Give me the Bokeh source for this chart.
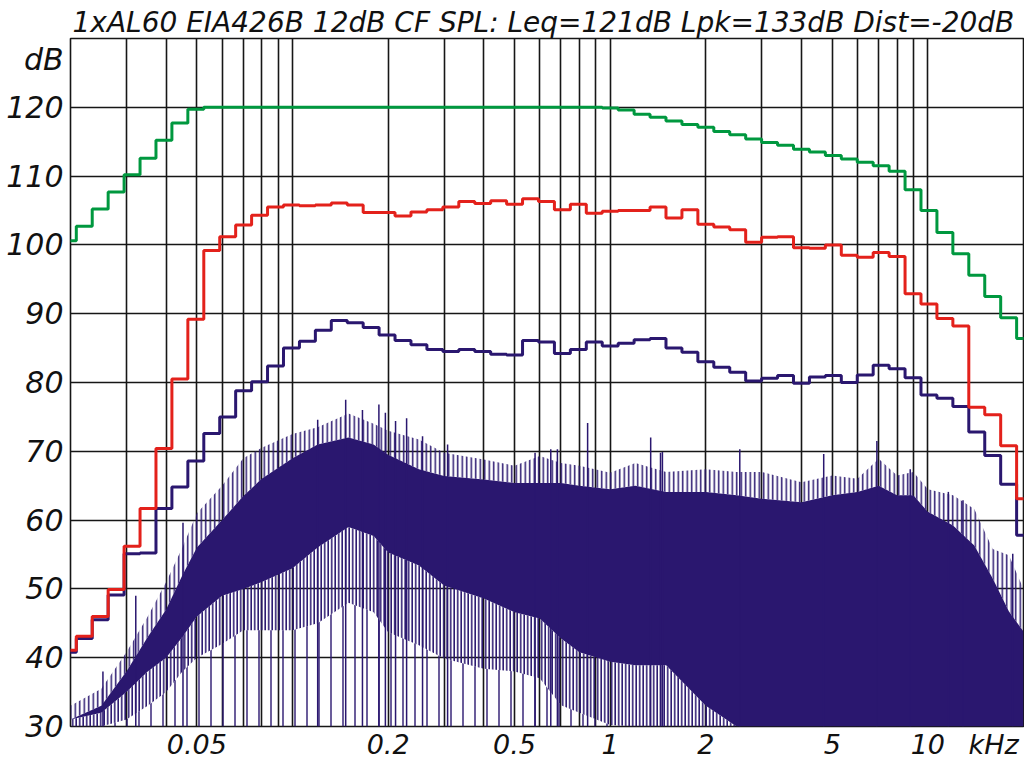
from bokeh.plotting import figure
from bokeh.models import Range1d, FixedTicker
from bokeh.embed import file_html
from bokeh.resources import INLINE

TITLE = "1xAL60 EIA426B 12dB CF SPL: Leq=121dB Lpk=133dB Dist=-20dB"

# 1/6-octave band centres (kHz)
band_khz = [0.01969, 0.02210, 0.02480, 0.02784, 0.03125, 0.03508, 0.03937, 0.04419,
            0.04961, 0.05568, 0.0625, 0.07015, 0.07875, 0.08839, 0.09921, 0.1114,
            0.125, 0.1403, 0.1575, 0.1768, 0.1984, 0.2227, 0.25, 0.2806, 0.3150,
            0.3536, 0.3969, 0.4454, 0.5, 0.5612, 0.63, 0.7071, 0.7937, 0.8909, 1.0,
            1.1225, 1.2599, 1.4142, 1.5874, 1.7818, 2.0, 2.2449, 2.5198, 2.8284,
            3.1748, 3.5636, 4.0, 4.4898, 5.0397, 5.6569, 6.3496, 7.1272, 8.0,
            8.9797, 10.079, 11.314, 12.699, 14.254, 16.0, 17.959, 20.159]

green_db = [100.6, 102.7, 105.2, 107.7, 110.2, 112.6, 115.2, 117.7, 119.7,
            120.0, 120.0, 120.0, 120.0, 120.0, 120.0, 120.0, 120.0, 120.0, 120.0,
            120.0, 120.0, 120.0, 120.0, 120.0, 120.0, 120.0, 120.0, 120.0, 120.0,
            120.0, 120.0, 120.0, 120.0, 120.0,
            119.9, 119.6, 119.0, 118.55, 118.0, 117.5, 117.1,
            116.5, 116.0, 115.4, 114.9, 114.5, 113.9, 113.5, 113.0, 112.5, 112.0,
            111.5, 110.7, 108.0, 105.0, 101.8, 98.7, 95.6, 92.5, 89.4, 86.4]

red_db = [41.1, 43.1, 46.0, 49.9, 56.2, 61.7, 70.4, 80.5, 89.2, 99.2, 101.2, 102.9,
          104.3, 105.5, 105.8, 105.7, 105.8, 106.1,
          105.8, 104.7, 104.7, 104.2, 104.8, 105.1, 105.5, 106.3, 106.0, 106.4,
          105.9, 106.7, 106.3, 105.1, 105.9, 104.6,
          104.9, 105.0, 105.0, 105.5, 103.9, 105.1, 103.0, 102.6, 102.2, 100.4,
          101.1, 101.2, 99.6, 99.5, 100.0, 98.5, 98.2, 98.9, 98.3, 92.9, 91.4,
          89.3, 88.2, 76.4, 75.3, 70.8, 63.1]

navy_db = [40.8, 42.8, 45.5, 49.1, 55.1, 55.2, 61.7, 64.8, 68.6, 72.6, 75.0, 78.8,
           80.1, 82.4, 85.0, 86.0, 87.6, 89.0,
           88.7, 88.0, 86.9, 86.1, 85.5, 84.8, 84.5, 84.8, 84.5, 84.1, 84.0, 86.1,
           85.9, 84.2, 84.8, 85.9,
           85.3, 85.7, 86.2, 86.4, 85.0, 84.4, 83.0, 82.2, 81.5, 80.2, 80.6, 81.0,
           79.9, 80.8, 81.0, 80.0, 81.1, 82.5, 82.0, 80.7, 78.2, 77.7, 76.5, 72.8,
           69.4, 65.2, 57.8]

# narrow-band spectrum, read as envelopes (dB)
spec_khz = [0.02, 0.025, 0.03, 0.035, 0.04, 0.045, 0.05, 0.06, 0.07, 0.08, 0.1, 0.12,
            0.15, 0.18, 0.2, 0.25, 0.3, 0.4, 0.5, 0.6, 0.7, 0.8, 1.0, 1.2, 1.5, 2.0,
            2.5, 3.0, 4.0, 5.0, 6.0, 7.0, 8.0, 9.0, 10.0, 12.0, 14.0, 16.0, 18.0, 20.0]
spec_peak = [33.0, 35.5, 40.8, 46.0, 51.0, 56.0, 61.0, 65.0, 69.0, 70.5, 72.5, 73.5,
             75.5, 74.0, 73.0, 71.7, 69.8, 68.8, 67.9, 69.3, 68.3, 67.9, 66.9, 68.3,
             67.0, 67.4, 67.0, 67.0, 65.5, 66.5, 66.0, 68.9, 66.5, 67.0, 64.5, 63.6,
             61.6, 55.8, 54.9, 50.0]
spec_core_hi = [31.0, 33.0, 38.0, 43.0, 47.0, 52.0, 56.0, 60.0, 63.5, 66.0, 69.0, 71.0,
                72.0, 71.0, 69.5, 67.4, 66.4, 65.9, 65.4, 65.4, 65.4, 65.0, 64.5, 65.0,
                64.1, 64.1, 63.6, 63.1, 62.6, 63.6, 64.1, 65.0, 63.6, 63.6, 61.2, 59.2,
                56.3, 51.5, 46.7, 43.8]
spec_core_lo = [31.0, 32.0, 35.0, 38.0, 40.0, 43.0, 46.0, 49.0, 50.0, 51.0, 53.0, 56.0,
                59.0, 57.7, 55.3, 53.4, 50.5, 48.6, 46.6, 45.7, 42.8, 40.8, 39.4, 38.9,
                38.9, 33.0, 30.0, 30.0, 30.0, 30.0, 30.0, 30.0, 30.0, 30.0, 30.0, 30.0,
                30.0, 30.0, 30.0, 30.0]
spec_floor = [30.0, 30.0, 31.0, 33.0, 35.0, 38.0, 40.0, 42.0, 44.0, 44.0, 44.0, 45.0,
              48.0, 46.6, 43.7, 41.8, 39.9, 38.4, 38.0, 37.0, 33.1, 32.0, 30.2, 30.0,
              30.0, 30.0, 30.0, 30.0, 30.0, 30.0, 30.0, 30.0, 30.0, 30.0, 30.0, 30.0,
              30.0, 30.0, 30.0, 30.0]

# isolated tall spectral lines
spike_khz = [0.0253, 0.0321, 0.0452, 0.12, 0.147, 0.166, 0.187, 0.196, 0.211, 0.2286,
             0.2566, 0.3077, 0.58, 0.65, 0.682, 0.849, 1.341, 1.44, 1.46, 2.558, 4.70,
             6.91, 8.8, 11.6, 12.9, 18.5]
spike_db = [38.0, 49.0, 59.6, 74.6, 77.5, 76.0, 76.8, 75.6, 74.4, 74.8, 72.2, 71.0,
            69.8, 70.3, 70.3, 74.1, 72.0, 69.8, 69.9, 70.3, 69.6, 71.5, 67.4, 64.1,
            62.9, 55.1]

# x tick labels; the unit "kHz" sits to the right of the "10" label
x_tick_vals = [0.05, 0.2, 0.5, 1, 2, 5, 10, 16.1]
x_tick_text = ["0.05", "0.2", "0.5", "1", "2", "5", "10", "kHz"]
y_tick_vals = [30, 40, 50, 60, 70, 80, 90, 100, 110, 120]

GREEN = "#00983f"
RED = "#e3211b"
NAVY = "#2a176f"
GRID = "#161616"
FONT = "DejaVu Sans"


def steps(centres, vals):
    xs, ys = [], []
    h = 2 ** (1 / 12)
    for c, v in zip(centres, vals):
        xs += [c / h, c * h]
        ys += [v, v]
    return xs, ys


p = figure(width=1024, height=762, x_axis_type="log",
           x_range=Range1d(0.02, 20), y_range=Range1d(30, 130),
           output_backend="svg", toolbar_location=None,
           min_border_left=70, min_border_right=1, min_border_top=38,
           min_border_bottom=34)
p.background_fill_color = "white"
p.border_fill_color = "white"
p.outline_line_color = GRID
p.outline_line_width = 1.6

p.title.text = TITLE
p.title.text_font = FONT
p.title.text_font_style = "italic"
p.title.text_font_size = "28px"
p.title.text_color = "#111111"
p.title.align = "left"
p.title.offset = 2
p.title.standoff = 0

grid_f = [m * 10.0 ** e for e in (-2, -1, 0, 1) for m in range(1, 10)
          if 0.0201 < m * 10.0 ** e < 19.9]
p.xgrid.ticker = FixedTicker(ticks=grid_f)
p.ygrid.ticker = FixedTicker(ticks=y_tick_vals + [130])
for g in (p.xgrid, p.ygrid):
    g.grid_line_color = GRID
    g.grid_line_width = 1.6

p.xaxis.ticker = FixedTicker(ticks=x_tick_vals)
p.xaxis.major_label_overrides = dict(zip(x_tick_vals, x_tick_text))
p.yaxis.ticker = FixedTicker(ticks=y_tick_vals + [127])
p.yaxis.major_label_overrides = {127: "dB"}
for ax in (p.xaxis, p.yaxis):
    ax.axis_line_color = None
    ax.major_tick_line_color = None
    ax.minor_tick_line_color = None
    ax.major_tick_out = 0
    ax.major_tick_in = 0
    ax.minor_tick_out = 0
    ax.major_label_text_font = FONT
    ax.major_label_text_font_style = "italic"
    ax.major_label_text_color = "#111111"
p.yaxis.major_label_text_font_size = "30px"
p.yaxis.major_label_standoff = 7
p.xaxis.major_label_text_font_size = "27px"
p.xaxis.major_label_standoff = 2

# spectrum
p.varea(x=spec_khz, y1=spec_core_hi, y2=spec_peak, fill_color=None,
        hatch_pattern="vertical_line", hatch_color=NAVY, hatch_scale=4.5, hatch_weight=1.5)
p.varea(x=spec_khz, y1=spec_floor, y2=spec_core_lo, fill_color=None,
        hatch_pattern="vertical_line", hatch_color=NAVY, hatch_scale=3.5, hatch_weight=1.6)
p.varea(x=spec_khz, y1=[30.0] * len(spec_khz), y2=spec_floor, fill_color=None,
        hatch_pattern="vertical_line", hatch_color=NAVY, hatch_scale=12, hatch_weight=1.4)
p.varea(x=spec_khz, y1=spec_core_lo, y2=spec_core_hi, fill_color=NAVY)
p.segment(x0=spike_khz, y0=30, x1=spike_khz, y1=spike_db, line_color=NAVY, line_width=1.5)

for vals, col in ((navy_db, NAVY), (red_db, RED), (green_db, GREEN)):
    xs, ys = steps(band_khz, vals)
    p.line(xs, ys, line_color=col, line_width=3)

open("out.html", "w").write(file_html(p, INLINE))
